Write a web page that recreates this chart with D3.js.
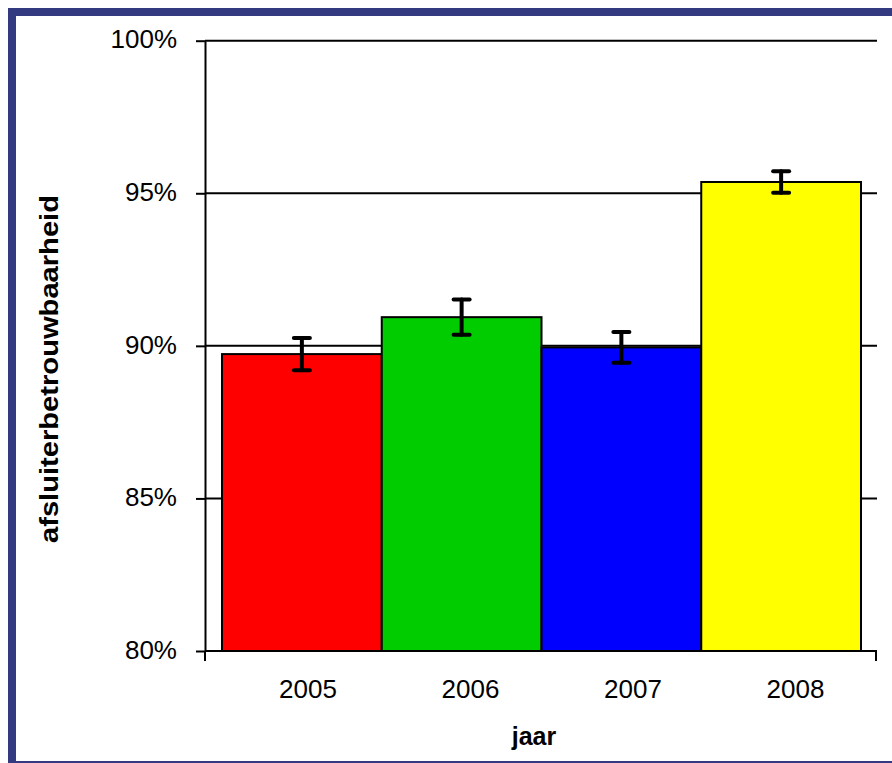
<!DOCTYPE html>
<html>
<head>
<meta charset="utf-8">
<script src="https://d3js.org/d3.v7.min.js"></script>
<style>
  body { margin: 0; background: #fff; }
  text { font-family: "Liberation Sans", Arial, sans-serif; fill: #000; }
</style>
</head>
<body>
<div id="my_dataviz"></div>
<script>

// data
var years = ["2005", "2006", "2007", "2008"];
var values = [89.73, 90.94, 89.95, 95.37];
var errors = [0.53, 0.58, 0.50, 0.35];
var colors = ["#ff0000", "#00cc00", "#0000ff", "#ffff00"];
var yTicks = [80, 85, 90, 95, 100];

var W = 892, H = 763;

var svg = d3.select("#my_dataviz")
  .append("svg")
    .attr("width", W)
    .attr("height", H);

// frame
svg.append("rect")
  .attr("x", 12).attr("y", 12)
  .attr("width", W + 20).attr("height", 753)
  .attr("fill", "#fff")
  .attr("stroke", "#333a80")
  .attr("stroke-width", 8);

// scales
var y = d3.scaleLinear().domain([80, 100]).range([651, 40.7]);
var xBar = d3.scaleBand().domain(years).range([222, 861]).padding(0);
var xLab = d3.scaleBand().domain(years).range([226.75, 876.75]).padding(0);
var xLeft = 205, xRight = 877;

// gridlines
svg.append("g")
  .selectAll("line")
  .data(yTicks.filter(function(d) { return d > 80; }))
  .enter()
  .append("line")
    .attr("x1", xLeft).attr("x2", xRight)
    .attr("y1", function(d) { return y(d); })
    .attr("y2", function(d) { return y(d); })
    .attr("stroke", "#000")
    .attr("stroke-width", 2);

// y axis
var yAxis = svg.append("g")
  .attr("transform", "translate(" + xLeft + ",0)")
  .call(d3.axisLeft(y)
    .tickValues(yTicks)
    .tickSize(9)
    .tickSizeOuter(0)
    .tickPadding(19)
    .tickFormat(function(d) { return d + "%"; }));
yAxis.select(".domain").attr("stroke", "#000").attr("stroke-width", 2);
yAxis.selectAll(".tick line").attr("stroke", "#000").attr("stroke-width", 2);
yAxis.selectAll(".tick text")
  .style("font-size", "26px")
  .style("font-family", "'Liberation Sans', Arial, sans-serif")
  .attr("dy", "0.28em");

// bars
svg.append("g")
  .selectAll("rect")
  .data(values)
  .enter()
  .append("rect")
    .attr("x", function(d, i) { return xBar(years[i]); })
    .attr("y", function(d) { return y(d); })
    .attr("width", xBar.bandwidth())
    .attr("height", function(d) { return y(80) - y(d); })
    .attr("fill", function(d, i) { return colors[i]; })
    .attr("stroke", "#000")
    .attr("stroke-width", 2);

// x axis line + end ticks
svg.append("line")
  .attr("x1", xLeft).attr("x2", xRight)
  .attr("y1", y(80)).attr("y2", y(80))
  .attr("stroke", "#000").attr("stroke-width", 2);
svg.append("g")
  .selectAll("line")
  .data([xLeft, xRight - 1])
  .enter()
  .append("line")
    .attr("x1", function(d) { return d; })
    .attr("x2", function(d) { return d; })
    .attr("y1", y(80)).attr("y2", y(80) + 10)
    .attr("stroke", "#000").attr("stroke-width", 2);

// error bars
var err = svg.append("g")
  .selectAll("g")
  .data(values)
  .enter()
  .append("g")
    .attr("stroke", "#000")
    .attr("stroke-width", 4)
    .attr("stroke-linecap", "round");
err.append("line")
  .attr("x1", function(d, i) { return xBar(years[i]) + xBar.bandwidth() / 2; })
  .attr("x2", function(d, i) { return xBar(years[i]) + xBar.bandwidth() / 2; })
  .attr("y1", function(d, i) { return y(d + errors[i]); })
  .attr("y2", function(d, i) { return y(d - errors[i]); });
err.selectAll(".cap")
  .data(function(d, i) { return [d + errors[i], d - errors[i]].map(function(v) { return {v: v, i: i}; }); })
  .enter()
  .append("line")
    .attr("class", "cap")
    .attr("x1", function(c) { return xBar(years[c.i]) + xBar.bandwidth() / 2 - 8; })
    .attr("x2", function(c) { return xBar(years[c.i]) + xBar.bandwidth() / 2 + 8; })
    .attr("y1", function(c) { return y(c.v); })
    .attr("y2", function(c) { return y(c.v); });

// x labels
svg.append("g")
  .selectAll("text")
  .data(years)
  .enter()
  .append("text")
    .attr("x", function(d) { return xLab(d) + xLab.bandwidth() / 2; })
    .attr("y", 698)
    .attr("text-anchor", "middle")
    .style("font-size", "26px")
    .text(function(d) { return d; });

// axis titles
svg.append("text")
  .attr("x", 534)
  .attr("y", 745)
  .attr("text-anchor", "middle")
  .style("font-size", "25px")
  .style("font-weight", "bold")
  .text("jaar");

svg.append("text")
  .attr("transform", "translate(58,369) rotate(-90)")
  .attr("text-anchor", "middle")
  .attr("textLength", 348)
  .attr("lengthAdjust", "spacingAndGlyphs")
  .style("font-size", "25px")
  .style("font-weight", "bold")
  .text("afsluiterbetrouwbaarheid");

</script>
</body>
</html>
